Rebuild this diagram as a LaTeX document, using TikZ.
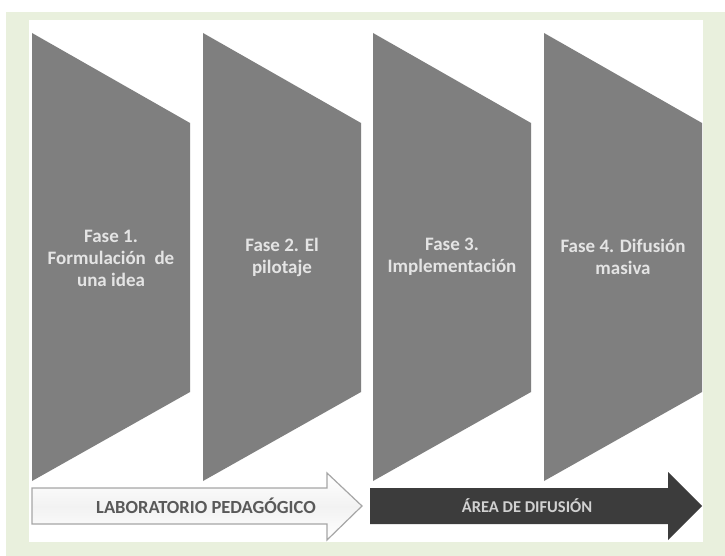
\documentclass[tikz,border=0pt]{standalone}
\usepackage{fontspec}
\setmainfont{Carlito}
\definecolor{frame}{HTML}{E9F0DD}
\definecolor{panel}{HTML}{7F7F7F}
\definecolor{ptext}{HTML}{E4E4E4}
\definecolor{darkarrow}{HTML}{3C3C3C}
\definecolor{lightstroke}{HTML}{A6A6A6}
\definecolor{labtext}{HTML}{595959}
\begin{document}
\begin{tikzpicture}[x=1pt,y=-1pt,
  panelshape/.style={fill=panel},
  paneltext/.style={text=ptext,font=\bfseries\fontsize{19}{22}\selectfont,align=center,inner sep=0pt},
  lightarrow/.style={draw=lightstroke,line width=1.2pt,top color=white,bottom color=white,middle color=black!5},
  darkarr/.style={fill=darkarrow},
]
\useasboundingbox (0,0) rectangle (725,556);
\fill[white] (0,0) rectangle (725,556);
\fill[frame] (6,12) rectangle (725,556);
\fill[white] (29,20) rectangle (703,542);
% panels
\foreach \x in {32,203,373,544}{
  \fill[panelshape] (\x,33) -- (\x+158,123) -- (\x+158,392) -- (\x,481) -- cycle;
}
\node[paneltext] (p1) at (111,258) {Fase 1.\\Formulación~ de\\una idea};
\node[paneltext] (p2) at (282,257) {Fase 2. El\\pilotaje};
\node[paneltext] (p3) at (452,257) {Fase 3.\\Implementación};
\node[paneltext] (p4) at (623,257) {Fase 4. Difusión\\masiva};
% arrows
\path[lightarrow] (32,488) -- (327,488) -- (327,473) -- (362,506) -- (327,540) -- (327,524) -- (32,524) -- cycle;
\node[text=labtext,font=\bfseries\fontsize{18.5}{20}\selectfont,inner sep=0pt] (lab) at (206,506) {LABORATORIO PEDAGÓGICO};
\fill[darkarr] (370,488) -- (668,488) -- (668,472) -- (702,506) -- (668,540) -- (668,524) -- (370,524) -- cycle;
\node[text=black!18,font=\bfseries\fontsize{16.5}{18}\selectfont,inner sep=0pt] (area) at (527,506) {ÁREA DE DIFUSIÓN};
\end{tikzpicture}
\end{document}
